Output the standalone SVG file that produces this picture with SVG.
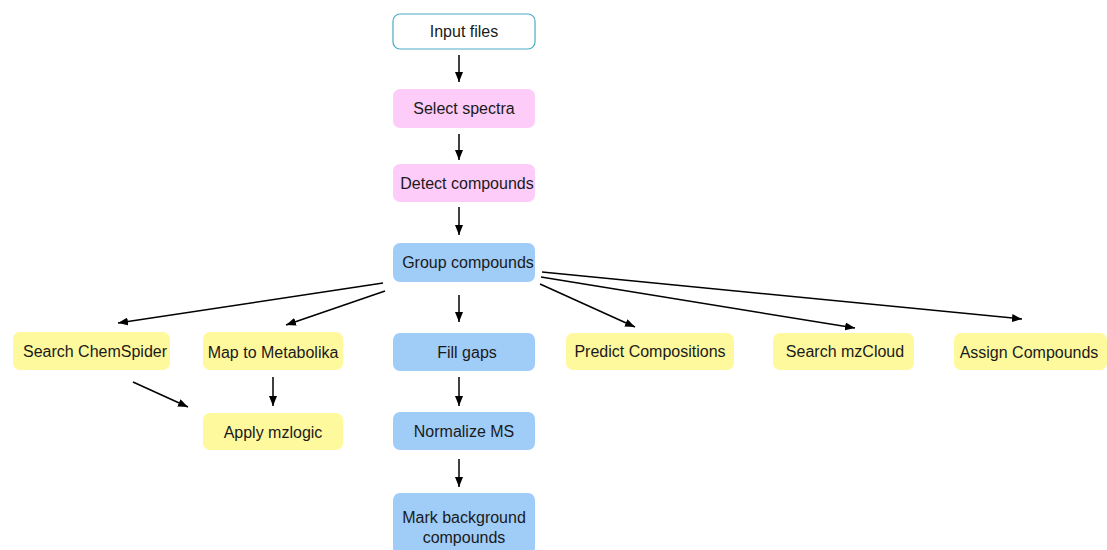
<svg xmlns="http://www.w3.org/2000/svg" width="1107" height="550" viewBox="0 0 1107 550">
<defs>
<marker id="ah" markerUnits="userSpaceOnUse" markerWidth="10" markerHeight="8" viewBox="0 0 10 8" refX="10" refY="4" orient="auto">
<path d="M0,0 L10,4 L0,8 z" fill="#000"/>
</marker>
<style>
.t{font-family:"Liberation Sans",Arial,sans-serif;font-size:16px;fill:#1a1a1a;text-anchor:middle;dominant-baseline:central}
.pink{fill:#FDCCF9}
.blue{fill:#A0CCF8}
.yel{fill:#FFF99E}
.c line{stroke:#000;stroke-width:1.5;marker-end:url(#ah)}
</style>
</defs>
<rect width="1107" height="550" fill="#fff"/>
<g id="input-files"><rect x="393" y="14" width="142" height="35" rx="7" fill="#fff" stroke="#4BACC6" stroke-width="1.2"/><text class="t" x="464" y="31">Input files</text></g>
<g id="select-spectra"><rect class="pink" x="393" y="89" width="142" height="39" rx="7"/><text class="t" x="464" y="108">Select spectra</text></g>
<g id="detect-compounds"><rect class="pink" x="393" y="164" width="142" height="38" rx="7"/><text class="t" x="467" y="183">Detect compounds</text></g>
<g id="group-compounds"><rect class="blue" x="393" y="243" width="142" height="39" rx="7"/><text class="t" x="468" y="262">Group compounds</text></g>
<g id="fill-gaps"><rect class="blue" x="393" y="333" width="142" height="38" rx="7"/><text class="t" x="467" y="352">Fill gaps</text></g>
<g id="normalize-ms"><rect class="blue" x="393" y="412" width="142" height="38" rx="7"/><text class="t" x="464" y="431">Normalize MS</text></g>
<g id="mark-background"><rect class="blue" x="393" y="493" width="142" height="62" rx="7"/><text class="t" x="464" y="517">Mark background</text><text class="t" x="464" y="537">compounds</text></g>
<g id="search-chemspider"><rect class="yel" x="13" y="332" width="157" height="38" rx="7"/><text class="t" x="95" y="351">Search ChemSpider</text></g>
<g id="map-metabolika"><rect class="yel" x="203" y="332" width="140" height="38" rx="7"/><text class="t" x="273" y="352">Map to Metabolika</text></g>
<g id="apply-mzlogic"><rect class="yel" x="203" y="413" width="140" height="37" rx="7"/><text class="t" x="273" y="432">Apply mzlogic</text></g>
<g id="predict-compositions"><rect class="yel" x="566" y="333" width="168" height="37" rx="7"/><text class="t" x="650" y="351">Predict Compositions</text></g>
<g id="search-mzcloud"><rect class="yel" x="773" y="333" width="141" height="37" rx="7"/><text class="t" x="845" y="351">Search mzCloud</text></g>
<g id="assign-compounds"><rect class="yel" x="954" y="333" width="153" height="37" rx="7"/><text class="t" x="1029" y="352">Assign Compounds</text></g>
<g id="connectors" class="c">
<line x1="459" y1="55" x2="459" y2="82"/>
<line x1="459" y1="134" x2="459" y2="160"/>
<line x1="459" y1="207" x2="459" y2="235"/>
<line x1="459" y1="295" x2="459" y2="322"/>
<line x1="459" y1="377" x2="459" y2="406"/>
<line x1="459" y1="459" x2="459" y2="487"/>
<line x1="383" y1="283" x2="118" y2="323"/>
<line x1="385" y1="291" x2="286" y2="325"/>
<line x1="273" y1="377" x2="273" y2="406"/>
<line x1="133" y1="382" x2="188" y2="407"/>
<line x1="540" y1="284" x2="635" y2="327"/>
<line x1="541" y1="277" x2="855" y2="328"/>
<line x1="542" y1="272" x2="1022" y2="319"/>
</g>
</svg>
